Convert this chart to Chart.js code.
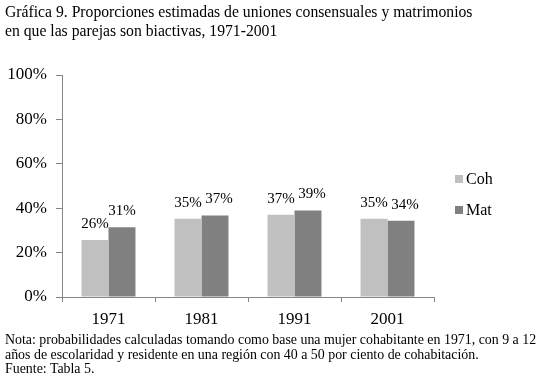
<!DOCTYPE html>
<html>
<head>
<meta charset="utf-8">
<script src="https://cdn.jsdelivr.net/npm/chart.js@4/dist/chart.umd.min.js"></script>
<style>
    body { margin: 0; background: #fff; }
    #wrap { position: relative; width: 545px; height: 388px; overflow: hidden; font-family: "Liberation Serif", "Times New Roman", serif; color: #000; }
    #wrap canvas { position: absolute; left: 0; top: 0; }
    .title { position: absolute; left: 5px; top: 2px; font-size: 15.7px; line-height: 19px; white-space: nowrap; }
    .note { position: absolute; left: 5px; top: 333px; font-size: 13.9px; line-height: 14.5px; white-space: nowrap; }
    .legend { position: absolute; left: 455px; font-size: 16px; line-height: 18px; }
    .legend span.box { display: inline-block; width: 8px; height: 8px; margin-right: 3px; vertical-align: 1px; }
</style>
</head>
<body>
<div id="wrap">
    <canvas id="char_prop" width="545" height="388"></canvas>
    <div class="title">Gráfica 9. Proporciones estimadas de uniones consensuales y matrimonios<br>en que las parejas son biactivas, 1971-2001</div>
    <div class="note">Nota: probabilidades calculadas tomando como base una mujer cohabitante en 1971, con 9 a 12<br>años de escolaridad y residente en una región con 40 a 50 por ciento de cohabitación.<br>Fuente: Tabla 5.</div>
    <div id="legend"></div>
</div>
<script>
var years = ["1971", "1981", "1991", "2001"];
var seriesNames = ["Coh", "Mat"];
var cohValues = [25.7, 35.2, 37.0, 35.2];
var matValues = [31.4, 36.7, 39.0, 34.3];
var yTicks = [0, 20, 40, 60, 80, 100];

var colors = ["#c0c0c0", "#808080"];
var font = "'Liberation Serif', 'Times New Roman', serif";

// legend as html, one row per series
var legendHtml = "";
seriesNames.forEach(function (name, i) {
    legendHtml += '<div class="legend" style="top:' + (170 + i * 31) + 'px"><span class="box" style="background:' + colors[i] + '"></span>' + name + '</div>';
});
document.getElementById("legend").innerHTML = legendHtml;

// value labels over the bars (second series nudged right a bit, like the original)
var barLabels = {
    id: "barLabels",
    afterDatasetsDraw: function (chart) {
        var ctx = chart.ctx;
        ctx.save();
        ctx.font = "15px " + font;
        ctx.fillStyle = "#000";
        ctx.textAlign = "center";
        ctx.textBaseline = "middle";
        chart.data.datasets.forEach(function (ds, i) {
            var meta = chart.getDatasetMeta(i);
            meta.data.forEach(function (bar, j) {
                var dx = i == 1 && j > 0 ? 4 : 0;
                ctx.fillText(Math.round(ds.data[j]) + "%", bar.x + dx, bar.y - 16);
            });
        });
        ctx.restore();
    }
};

var ctx = document.getElementById("char_prop").getContext("2d");
var myChart = new Chart(ctx, {
    type: "bar",
    data: {
        labels: years,
        datasets: [
            {
                label: seriesNames[0],
                backgroundColor: colors[0],
                data: cohValues,
            },
            {
                label: seriesNames[1],
                backgroundColor: colors[1],
                data: matValues,
            },
        ],
    },
    plugins: [barLabels],
    options: {
        responsive: false,
        animation: false,
        categoryPercentage: 0.58,
        barPercentage: 1.0,
        layout: {
            padding: { left: 0, top: 75, right: 111, bottom: 61 },
        },
        plugins: {
            legend: { display: false },
            title: { display: false },
            tooltip: { enabled: false },
        },
        scales: {
            y: {
                min: 0,
                max: 100,
                afterBuildTicks: function (scale) {
                    scale.ticks = yTicks.map(function (v) { return { value: v }; });
                },
                afterFit: function (scale) {
                    scale.width = 62;
                },
                ticks: {
                    color: "#000",
                    padding: 9,
                    font: { family: font, size: 17 },
                    callback: function (v) { return v + "%"; },
                },
                grid: {
                    display: true,
                    drawOnChartArea: false,
                    tickLength: 6,
                    color: "#868686",
                },
                border: { color: "#868686" },
            },
            x: {
                afterFit: function (scale) {
                    scale.height = 30;
                },
                ticks: {
                    color: "#000",
                    padding: 7,
                    font: { family: font, size: 17 },
                },
                grid: {
                    display: true,
                    offset: true,
                    drawOnChartArea: false,
                    tickLength: 5,
                    color: "#868686",
                },
                border: { color: "#868686" },
            },
        },
    },
});
</script>
</body>
</html>
